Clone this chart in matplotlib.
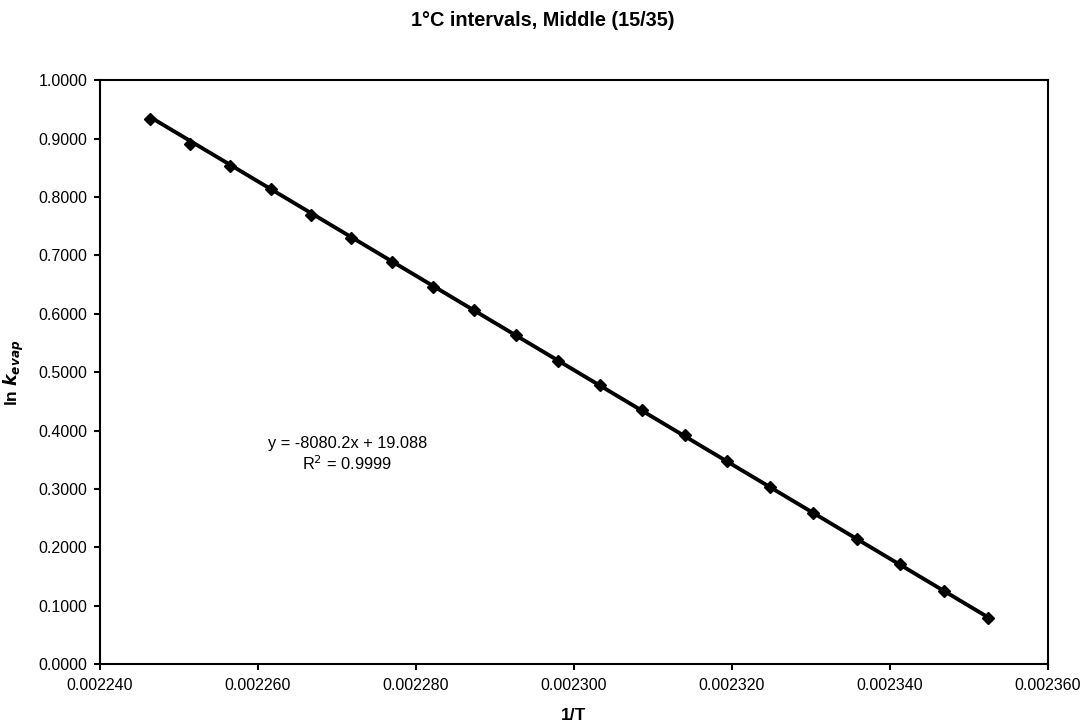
import matplotlib
matplotlib.use("Agg")
import matplotlib.pyplot as plt
import numpy as np
from matplotlib.ticker import MultipleLocator, FormatStrFormatter

plt.rcParams['font.family'] = ['Liberation Sans', 'DejaVu Sans']

inv_T = [0.0022464, 0.0022514, 0.0022565, 0.0022616, 0.0022667, 0.0022718,
         0.0022770, 0.0022822, 0.0022874, 0.0022927, 0.0022980, 0.0023033,
         0.0023086, 0.0023140, 0.0023194, 0.0023248, 0.0023303, 0.0023358,
         0.0023413, 0.0023468, 0.0023524]
ln_k = [0.933, 0.891, 0.853, 0.813, 0.770, 0.729, 0.689, 0.646, 0.606, 0.563,
        0.519, 0.478, 0.435, 0.392, 0.347, 0.304, 0.259, 0.214, 0.172, 0.125,
        0.078]
slope = -8080.2
intercept = 19.088
r2 = 0.9999

fig = plt.figure(figsize=(10.86, 7.23), dpi=100)
ax = fig.add_axes([0.092, 0.0816, 0.873, 0.8074])

ax.plot(inv_T, ln_k, linestyle='none', marker='D', markersize=6, color='black')
xs = np.array([min(inv_T), max(inv_T)])
ax.plot(xs, slope * xs + intercept, color='black', linewidth=2.8)

ax.set_xlim(0.002240, 0.002360)
ax.set_ylim(0.0, 1.0)
ax.xaxis.set_major_locator(MultipleLocator(0.00002))
ax.yaxis.set_major_locator(MultipleLocator(0.1))
ax.xaxis.set_major_formatter(FormatStrFormatter('%.6f'))
ax.yaxis.set_major_formatter(FormatStrFormatter('%.4f'))
ax.tick_params(direction='out', length=4, width=1.5, labelsize=11.5)
ax.tick_params(axis='x', pad=6)
ax.tick_params(axis='y', pad=5)
for s in ax.spines.values():
    s.set_linewidth(1.5)

fig.text(0.5, 0.972, '1°C intervals, Middle (15/35)', ha='center', va='center',
         fontsize=14.3, fontweight='bold')
fig.text(0.5285, 0.0097, '1/T', ha='center', va='center', fontsize=12.5, fontweight='bold')
fig.text(0.0129, 0.484, r'ln $\boldsymbol{k}_{\boldsymbol{evap}}$', ha='center', va='center',
         rotation=90, fontsize=12.5, fontweight='bold')

ax.text(0.0022713, 0.359, f'y = {slope}x + {intercept}\nR$^2$ = {r2}',
        ha='center', va='center', fontsize=11.8, linespacing=1.25)

fig.savefig('out.png', dpi=100)
